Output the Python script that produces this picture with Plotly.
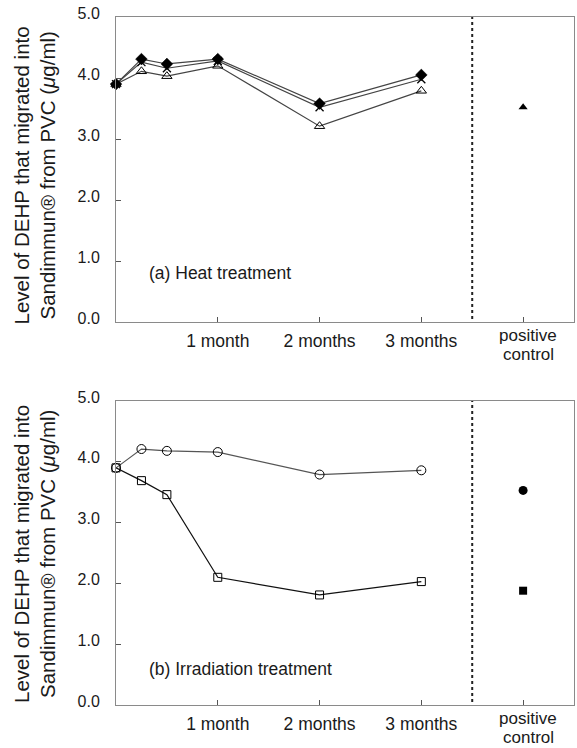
import plotly.graph_objects as go

# ---- data ----
months = [0, 0.25, 0.5, 1, 2, 3]
heat_diamond = [3.90, 4.31, 4.23, 4.31, 3.58, 4.05]
heat_x = [3.90, 4.26, 4.16, 4.28, 3.52, 3.98]
heat_triangle = [3.90, 4.11, 4.03, 4.20, 3.21, 3.79]
heat_control = [3.52]

irr_circle = [3.90, 4.21, 4.18, 4.16, 3.79, 3.86]
irr_square = [3.90, 3.69, 3.46, 2.10, 1.81, 2.03]
irr_control_circle = [3.53]
irr_control_square = [1.88]

control_x = [4]
divider_x = 3.5
tick_vals = [1, 2, 3, 4]
tick_text = ["1 month", "2 months", "3 months", ""]
control_labels = ["positive", "control"]
y_ticks = [0, 1, 2, 3, 4, 5]
panel_labels = ["(a) Heat treatment", "(b) Irradiation treatment"]
y_title_lines = ["Level of DEHP that migrated into", "Sandimmun® from PVC (<i>μ</i>g/ml)"]

fig = go.Figure()
FONT = "Arial"
TXT = "#1a1a1a"
LINE_GRAY = "#444444"
XFS = 17.5

def add_series(x, y, symbol, size, lcolor, mcolor, mline, xa, ya, mode="lines+markers", lw=1.2):
    fig.add_trace(go.Scatter(
        x=x, y=y, mode=mode, xaxis=xa, yaxis=ya,
        line=dict(color=lcolor, width=lw),
        marker=dict(symbol=symbol, size=size, color=mcolor,
                    line=dict(color="black", width=mline)),
        showlegend=False, hoverinfo="skip", cliponaxis=False))

# top panel (heat)
add_series(months, heat_triangle, "triangle-up-open", 9, LINE_GRAY, "black", 1, "x", "y")
add_series(months, heat_x, "x-thin", 8, LINE_GRAY, "black", 1.3, "x", "y")
add_series(months, heat_diamond, "diamond", 9, LINE_GRAY, "black", 0.5, "x", "y")
add_series(control_x, heat_control, "triangle-up", 8, "black", "black", 0, "x", "y", mode="markers")

# bottom panel (irradiation)
add_series(months, irr_circle, "circle-open", 9, "#555555", "black", 1, "x2", "y2")
add_series(months, irr_square, "square-open", 8, "#111111", "black", 1, "x2", "y2")
add_series(control_x, irr_control_circle, "circle", 9, "black", "black", 0, "x2", "y2", mode="markers")
add_series(control_x, irr_control_square, "square", 8, "black", "black", 0, "x2", "y2", mode="markers")

# dotted dividers
for xr, yr in [("x", "y"), ("x2", "y2")]:
    fig.add_shape(type="line", xref=xr, yref=yr, x0=divider_x, x1=divider_x, y0=0.05, y1=5,
                  line=dict(color="#222222", width=2, dash="dot"))

xaxis_common = dict(range=[0, 4.5], tickvals=tick_vals, ticktext=tick_text,
                    showline=True, mirror=True, linecolor="#8a8a8a", linewidth=1,
                    ticks="inside", ticklen=5, tickcolor="#555555",
                    ticklabelstandoff=3,
                    showgrid=False, zeroline=False,
                    tickfont=dict(family=FONT, size=XFS, color=TXT))
yaxis_common = dict(range=[0, 5], tickvals=y_ticks, tickformat=".1f",
                    showline=True, mirror=True, linecolor="#8a8a8a", linewidth=1,
                    ticks="inside", ticklen=5, tickcolor="#555555",
                    ticklabelstandoff=12, ticklabelshift=-4,
                    showgrid=False, zeroline=False,
                    tickfont=dict(family=FONT, size=16, color=TXT))

# plot areas: top 17-322, bottom 401-705 px; margins t=17, b=43 -> height 688
H = 688.0
top_dom = [(705 - 322) / H, 1.0]
bot_dom = [0.0, (705 - 401) / H]

fig.update_layout(
    width=577, height=748,
    margin=dict(l=116, r=3, t=17, b=43),
    paper_bgcolor="white", plot_bgcolor="white",
    xaxis=dict(xaxis_common, domain=[0, 1], anchor="y"),
    yaxis=dict(yaxis_common, domain=top_dom, anchor="x"),
    xaxis2=dict(xaxis_common, domain=[0, 1], anchor="y2"),
    yaxis2=dict(yaxis_common, domain=bot_dom, anchor="x2"),
)

# "positive" / "control" category label (two tight lines)
for dom in (top_dom, bot_dom):
    for txt, ys in zip(control_labels, (-13, -32.5)):
        fig.add_annotation(x=4, y=dom[0], xref="x", yref="paper", text=txt,
                           showarrow=False, xanchor="center", yanchor="middle",
                           xshift=5, yshift=ys, borderpad=0,
                           font=dict(family=FONT, size=17, color=TXT))

# panel labels
fig.add_annotation(x=0.3, y=0.8, xref="x", yref="y", text=panel_labels[0], showarrow=False,
                   xanchor="left", font=dict(family=FONT, size=17.5, color=TXT))
fig.add_annotation(x=0.3, y=0.6, xref="x2", yref="y2", text=panel_labels[1], showarrow=False,
                   xanchor="left", font=dict(family=FONT, size=17.5, color=TXT))

# y titles (two lines each, positioned separately)
centers_px = [175.5, 554]
for cpx in centers_px:
    ypaper = (705 - cpx) / H
    for line, xs in zip(y_title_lines, (-95, -69)):
        fig.add_annotation(x=0, y=ypaper, xref="paper", yref="paper",
                           text=line, showarrow=False, textangle=-90,
                           xanchor="center", yanchor="middle", xshift=xs,
                           font=dict(family=FONT, size=20.5, color=TXT))

fig.write_html("out.html")
